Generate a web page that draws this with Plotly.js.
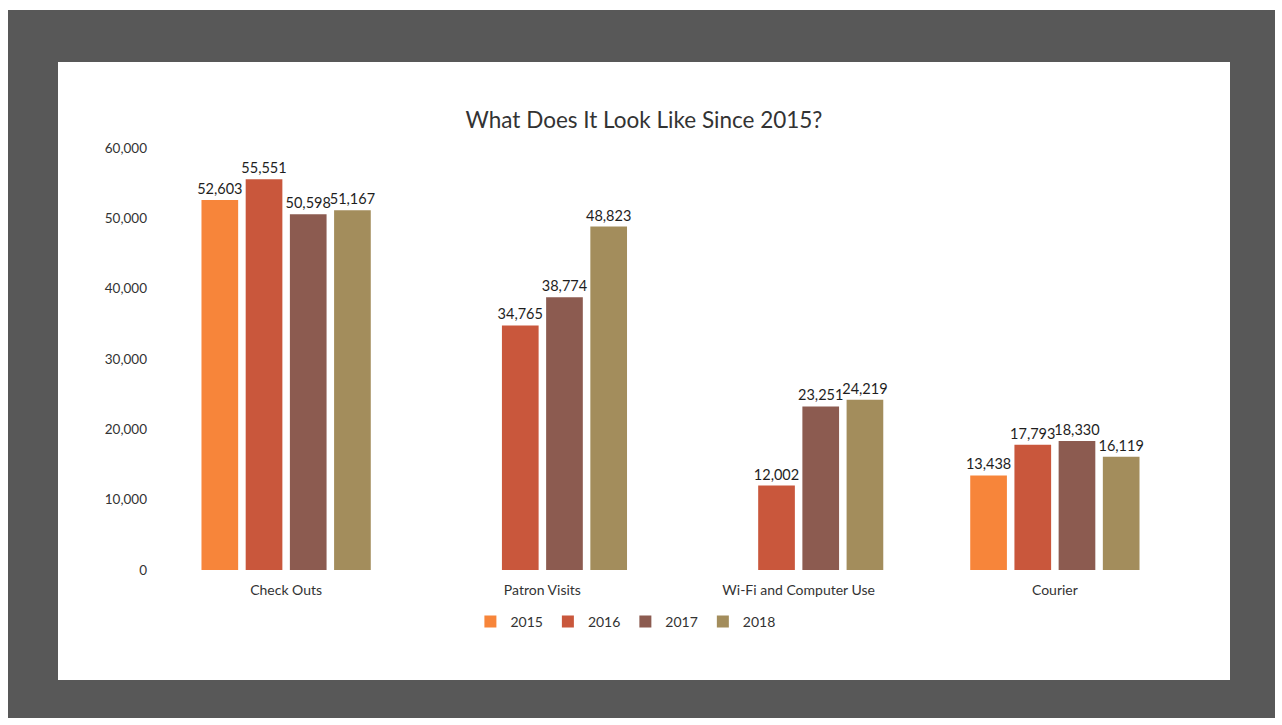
<!DOCTYPE html>
<html><head><meta charset="utf-8">
<script src="https://cdn.plot.ly/plotly-3.0.1.min.js"></script>
<style>
html,body{margin:0;padding:0;background:#fff;width:1282px;height:725px;overflow:hidden;}
#frame{position:absolute;left:8px;top:10px;width:1267px;height:708px;background:#585858;}
#chart{position:absolute;left:58px;top:62px;width:1172px;height:618px;background:#fff;}
</style></head>
<body>
<div id="frame"></div>
<div id="chart"></div>
<script>
const categories = ["Check Outs", "Patron Visits", "Wi-Fi and Computer Use", "Courier"];
const years = ["2015", "2016", "2017", "2018"];
const v2015 = [52603, null, null, 13438];
const v2016 = [55551, 34765, 12002, 17793];
const v2017 = [50598, 38774, 23251, 18330];
const v2018 = [51167, 48823, 24219, 16119];
const yTicks = [0, 10000, 20000, 30000, 40000, 50000, 60000];
const yTickText = ["0", "10,000", "20,000", "30,000", "40,000", "50,000", "60,000"];

const series = [v2015, v2016, v2017, v2018];
const colors = ["#F7853A", "#C9573C", "#8C5B50", "#A38D5C"];
const fmt = v => v == null ? "" : v.toLocaleString("en-US");

const traces = series.map((vals, i) => ({
  type: "bar",
  name: years[i],
  x: categories,
  y: vals,
  marker: {color: colors[i]},
  text: vals.map(fmt),
  textposition: "outside",
  constraintext: "none",
  textfont: {family: "Lato, sans-serif", size: 14.5, color: "#1e1e1e"},
  cliponaxis: false,
  hoverinfo: "x+y+name"
}));

const layout = {
  width: 1172, height: 618,
  paper_bgcolor: "#fff", plot_bgcolor: "#fff",
  margin: {l: 100, r: 47, t: 86, b: 110},
  title: {text: "What Does It Look Like Since 2015?", x: 0.5, xref: "container", xanchor: "center",
          y: 1 - 58/618, yref: "container", yanchor: "middle",
          font: {family: "Lato, sans-serif", size: 22.5, color: "#333"}},
  barmode: "group",
  bargap: 0.31,
  bargroupgap: 0.17,
  xaxis: {showline: false, ticks: "", ticklabelstandoff: 10,
          tickfont: {family: "Lato, sans-serif", size: 14, color: "#333"}},
  yaxis: {range: [0, 60000], tickvals: yTicks, ticktext: yTickText, showgrid: false, zeroline: false,
          showline: false, ticks: "", ticklabelstandoff: 10,
          tickfont: {family: "Lato, sans-serif", size: 13.5, color: "#333"}},
  legend: {orientation: "h", x: 0.456, xanchor: "center", y: -0.123, yanchor: "middle",
           font: {family: "Lato, sans-serif", size: 14, color: "#333"}, itemwidth: 30,
           traceorder: "normal"},
  showlegend: true
};

Plotly.newPlot("chart", traces, layout, {displayModeBar: false, staticPlot: true});
</script>
</body></html>
